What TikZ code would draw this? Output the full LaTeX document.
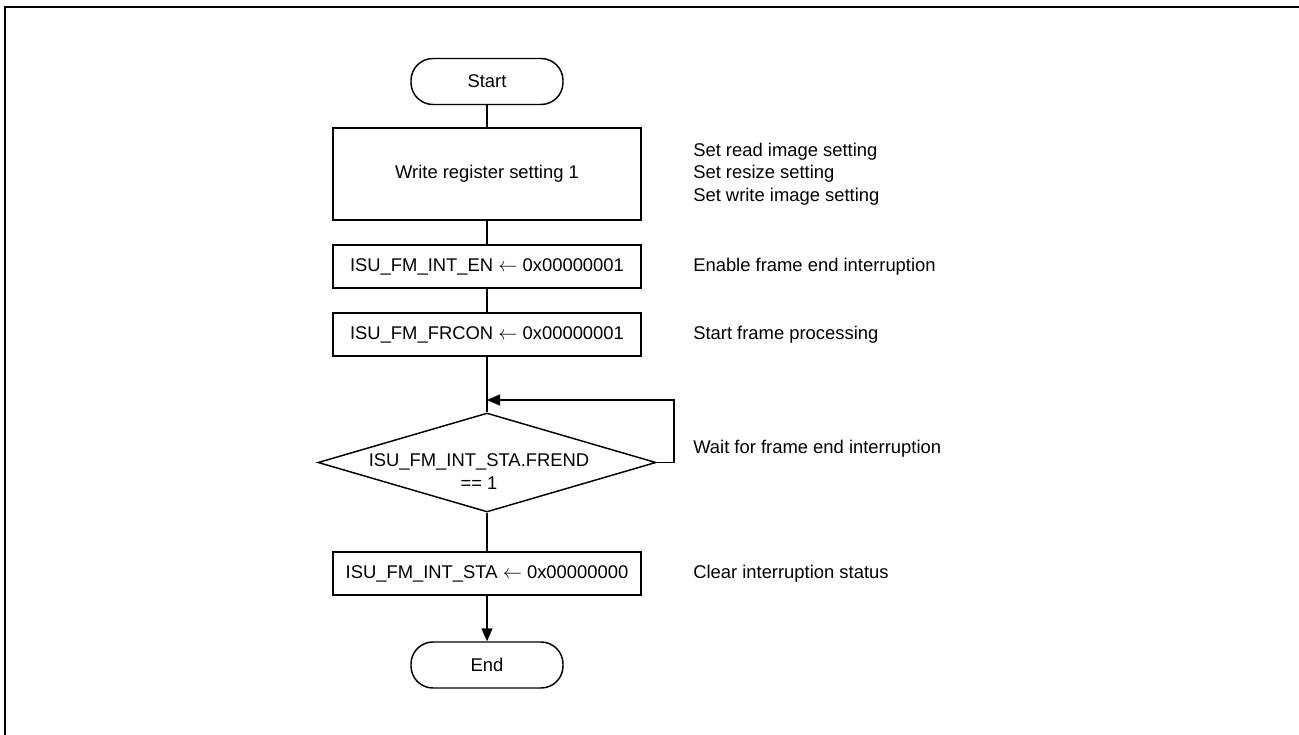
\documentclass[tikz,border=0pt]{standalone}
\usepackage{fontspec}
\setmainfont{Liberation Sans}
\usetikzlibrary{shapes.geometric,arrows.meta}
\newcommand{\asg}{\ensuremath{\leftarrow}}
\begin{document}
\begin{tikzpicture}[x=0.75pt,y=-0.75pt,
  font=\fontsize{13.8pt}{16.9pt}\selectfont,
  flow/.style={line width=1.1pt},
  term/.style={draw,line width=1.1pt,rectangle,rounded corners=16.5pt,minimum width=114pt,minimum height=34.5pt,inner sep=0pt},
  proc/.style={draw,line width=1.1pt,rectangle,minimum width=231pt,inner sep=0pt},
  dec/.style={draw,line width=1.1pt,diamond,minimum width=253.5pt,minimum height=74.25pt,inner sep=0pt},
  note/.style={anchor=west,align=left,inner sep=0pt},
  arr/.style={line width=1.1pt,-{Triangle[length=9.75pt,width=8.25pt]}}
]
\useasboundingbox (0,0) rectangle (1299,735);
\draw[line width=1.9pt] (5,735) -- (5,7) -- (1299,7);

\node[term] (start) at (487,81.5) {Start};
\node[proc,minimum height=69pt] (b1) at (487,174) {Write register setting 1};
\node[proc,minimum height=32.25pt] (b2) at (487,266.5) {ISU\_FM\_INT\_EN \asg{} 0x00000001};
\node[proc,minimum height=32.25pt] (b3) at (487,334.5) {ISU\_FM\_FRCON \asg{} 0x00000001};
\node[dec,label={[align=center,inner sep=0pt,xshift=-6pt,yshift=-7pt]center:ISU\_FM\_INT\_STA.FREND\\== 1}] (dia) at (487,462.5) {};
\node[proc,minimum height=32.25pt] (b4) at (487,573.5) {ISU\_FM\_INT\_STA \asg{} 0x00000000};
\node[term] (end) at (487,665) {End};

\coordinate (merge) at (487,400);
\coordinate (loopr) at (674,462.5);

\draw[flow] (start) -- (b1);
\draw[flow] (b1) -- (b2);
\draw[flow] (b2) -- (b3);
\draw[flow] (b3) -- (dia);
\draw[arr] (dia.east) -- (loopr) |- (merge);
\draw[flow] (dia) -- (b4);
\draw[arr] (b4) -- (end);

\node[note] (n1) at (693,174) {Set read image setting\\Set resize setting\\Set write image setting};
\node[note] (n2) at (693,266.5) {Enable frame end interruption};
\node[note] (n3) at (693,334.5) {Start frame processing};
\node[note] (n4) at (693,449) {Wait for frame end interruption};
\node[note] (n5) at (693,573.5) {Clear interruption status};
\end{tikzpicture}
\end{document}
